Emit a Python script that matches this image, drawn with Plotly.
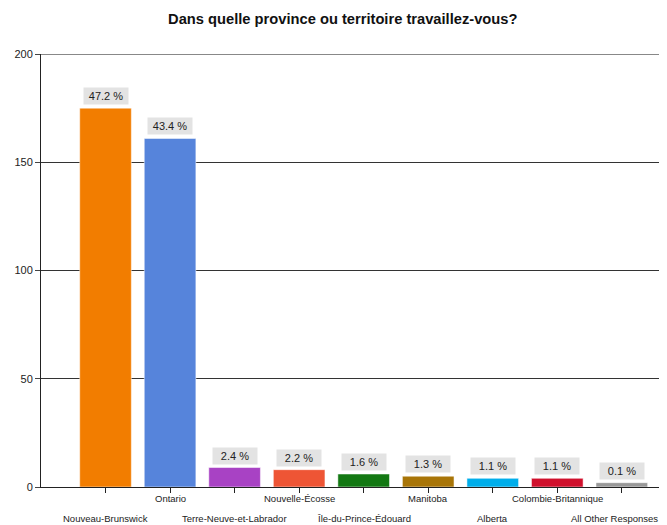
import plotly.graph_objects as go

categories = ["Nouveau-Brunswick", "Ontario", "Terre-Neuve-et-Labrador", "Nouvelle-Écosse",
              "Île-du-Prince-Édouard", "Manitoba", "Alberta", "Colombie-Britannique",
              "All Other Responses"]
counts = [175, 161, 9, 8, 6, 5, 4, 4, 2]
percent_labels = ["47.2 %", "43.4 %", "2.4 %", "2.2 %", "1.6 %", "1.3 %", "1.1 %", "1.1 %", "0.1 %"]
y_ticks = [0, 50, 100, 150, 200]

colors = ["#F27D00", "#5684DB", "#A842C4", "#EE5535", "#137813",
          "#A87508", "#00AEEB", "#D0102C", "#999999"]

xs = list(range(len(categories)))
FONT = "Liberation Sans, Arial, sans-serif"

fig = go.Figure()
fig.add_trace(go.Bar(
    x=xs, y=counts, width=0.8,
    marker=dict(color=colors, line=dict(color="rgba(255,255,255,0.5)", width=1)),
    hoverinfo="skip", showlegend=False,
))

annotations = []
for i, (v, lab) in enumerate(zip(counts, percent_labels)):
    annotations.append(dict(
        x=i, y=v, xref="x", yref="y", text=lab, showarrow=False,
        yanchor="bottom", yshift=3, bgcolor="#E3E3E3", width=42, height=14,
        font=dict(family=FONT, size=11, color="#222222"),
    ))
for i, cat in enumerate(categories):
    shift = -4 if i % 2 == 1 else -24
    annotations.append(dict(
        x=i, y=0, xref="x", yref="paper", text=cat, showarrow=False,
        yanchor="top", yshift=shift, xshift=(-7 if i == len(categories) - 1 else 0),
        font=dict(family=FONT, size=9.5, color="#222222"),
    ))

fig.update_layout(
    width=659, height=517,
    margin=dict(l=33, r=0, t=46, b=38),
    paper_bgcolor="white", plot_bgcolor="white",
    title=dict(text="<b>Dans quelle province ou territoire travaillez-vous?</b>",
               x=0.508, xanchor="center", y=1 - 11/517, yanchor="middle", yref="container",
               font=dict(family=FONT, size=14.7, color="#111111")),
    xaxis=dict(range=[-1.0, 8.7], tickmode="array", tickvals=xs, ticktext=[""] * len(xs),
               ticks="outside", ticklen=5, tickcolor="#222222", showgrid=False,
               showline=True, linecolor="#222222", linewidth=1, zeroline=False, fixedrange=True),
    yaxis=dict(range=[0, 200], tickmode="array", tickvals=y_ticks, ticks="outside",
               ticklen=5, tickcolor="#444444", showline=True, linecolor="#222222", linewidth=1,
               showgrid=True, gridcolor="#333333", gridwidth=1, zeroline=False,
               tickfont=dict(family=FONT, size=11, color="#222222")),
    annotations=annotations,
    shapes=[dict(type="line", xref="paper", yref="y", x0=0, x1=1, y0=200, y1=200,
                 line=dict(color="#888888", width=2))],
    bargap=0.2,
)

fig.write_html("out.html")
